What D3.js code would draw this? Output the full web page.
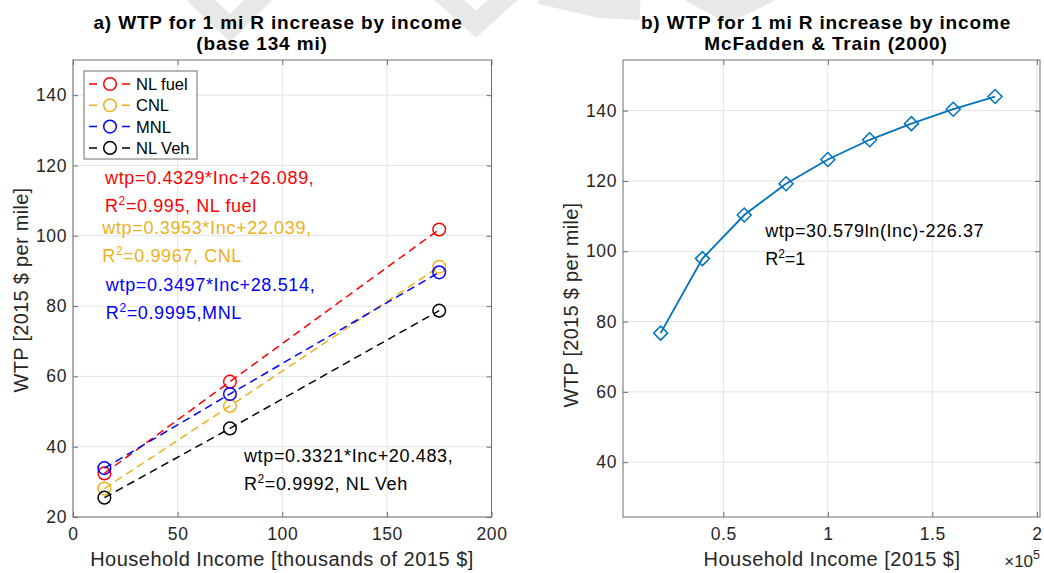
<!DOCTYPE html>
<html>
<head>
<meta charset="utf-8">
<script src="https://cdn.jsdelivr.net/npm/d3@7"></script>
<style>
  body { margin: 0; background: #fff; }
  svg { display: block; }
  text { font-family: "Liberation Sans", Arial, Helvetica, sans-serif; fill: #262626; }
</style>
</head>
<body>
<svg id="fig" width="1044" height="573"></svg>
<script>
// ---- Panel a: WTP by household income, four model specifications ----
const incomeK   = [15, 75, 175];            // thousands of 2015 $
const wtpNLFuel = [32.4, 58.5, 101.8];
const wtpCNL    = [28.1, 51.6, 91.2];
const wtpMNL    = [33.9, 55.0, 89.6];
const wtpNLVeh  = [25.5, 45.2, 78.7];
const seriesNames  = ["NL fuel", "CNL", "MNL", "NL Veh"];
const fitEquations = ["wtp=0.4329*Inc+26.089,", "wtp=0.3953*Inc+22.039,",
                      "wtp=0.3497*Inc+28.514,", "wtp=0.3321*Inc+20.483,"];
const fitR2Values  = ["0.995", "0.9967", "0.9995", "0.9992"];
const fitR2Suffix  = [", NL fuel", ", CNL", ",MNL", ", NL Veh"];
const aXTicks = [0, 50, 100, 150, 200];
const aYTicks = [20, 40, 60, 80, 100, 120, 140];

// ---- Panel b: McFadden & Train (2000) ----
const incomeUSD = [20000, 40000, 60000, 80000, 100000, 120000, 140000, 160000, 180000];
const wtpMT     = [76.7, 97.9, 110.3, 119.2, 126.1, 131.7, 136.3, 140.4, 144.0];
const bXTicks      = [50000, 100000, 150000, 200000];
const bXTickLabels = ["0.5", "1", "1.5", "2"];
const bYTicks      = [40, 60, 80, 100, 120, 140];
const bEquation    = "wtp=30.579ln(Inc)-226.37";
const bR2Value     = "1";

const colors = ["#ff0000", "#edb120", "#0000ff", "#000000"];
const lineBlue = "#0072bd";
const svg = d3.select("#fig");

// faint grey marks along the top edge
const haze = svg.append("g").attr("fill", "none").attr("stroke", "#e8e8e8")
  .attr("stroke-width", 20).attr("stroke-linejoin", "miter");
[[[190, -10], [230, 28], [268, -10]],
 [[438, -10], [476, 24], [514, -10]],
 [[540, -6], [600, 8], [640, 10]],
 [[690, -8], [728, 12], [770, -8]]].forEach(p =>
  haze.append("path").attr("d", d3.line()(p)));

function drawAxes(g, x, y, xTicks, yTicks, xFmt) {
  const [x0, x1] = x.range();
  const [y0, y1] = y.range();
  // grid
  g.append("g").selectAll("line").data(xTicks).join("line")
    .attr("x1", d => x(d)).attr("x2", d => x(d)).attr("y1", y0).attr("y2", y1)
    .attr("stroke", "#e3e3e3").attr("stroke-width", 1);
  g.append("g").selectAll("line").data(yTicks).join("line")
    .attr("y1", d => y(d)).attr("y2", d => y(d)).attr("x1", x0).attr("x2", x1)
    .attr("stroke", "#e3e3e3").attr("stroke-width", 1);
  // axes with inward ticks on all four sides
  const style = sel => {
    sel.select(".domain").remove();
    sel.selectAll("line").attr("stroke", "#6e6e6e");
    sel.selectAll("text").style("font-size", "17.5px").attr("fill", "#262626")
      .style("letter-spacing", "0.6px");
  };
  g.append("g").attr("transform", `translate(0,${y0})`)
    .call(d3.axisBottom(x).tickValues(xTicks).tickSize(-5).tickPadding(11).tickFormat(xFmt))
    .call(style);
  g.append("g").attr("transform", `translate(0,${y1})`)
    .call(d3.axisTop(x).tickValues(xTicks).tickSize(-5).tickFormat(""))
    .call(style);
  g.append("g").attr("transform", `translate(${x0},0)`)
    .call(d3.axisLeft(y).tickValues(yTicks).tickSize(-5).tickPadding(6))
    .call(style);
  g.append("g").attr("transform", `translate(${x1},0)`)
    .call(d3.axisRight(y).tickValues(yTicks).tickSize(-5).tickFormat(""))
    .call(style);
  g.selectAll(".tick text").attr("font-family", null);
  g.append("rect").attr("x", x0).attr("y", y1).attr("width", x1 - x0).attr("height", y0 - y1)
    .attr("fill", "none").attr("stroke", "#6e6e6e").attr("stroke-width", 1);
}

function r2Text(sel, value, suffix) {
  sel.append("tspan").text("R");
  sel.append("tspan").text("2").attr("dy", -7).style("font-size", "12px");
  sel.append("tspan").text("=" + value + suffix).attr("dy", 7);
}

// two-line bold title
function title(g, lines, xs, y) {
  lines.forEach((s, i) => g.append("text").attr("text-anchor", "middle")
    .attr("x", xs[i]).attr("y", y + i * 21.4)
    .style("font-size", "19px").style("letter-spacing", "0.85px")
    .style("font-weight", "bold").style("fill", "#000").text(s));
}

// ================= Panel a =================
const xa = d3.scaleLinear().domain([0, 200]).range([73, 491.5]);
const ya = d3.scaleLinear().domain([20, 150]).range([517, 60]);
const ga = svg.append("g");
drawAxes(ga, xa, ya, aXTicks, aYTicks, d3.format("d"));

const seriesA = [wtpNLFuel, wtpCNL, wtpMNL, wtpNLVeh];
const lineA = d3.line().x((d, i) => xa(incomeK[i])).y(d => ya(d));
seriesA.forEach((vals, k) => {
  ga.append("path").attr("d", lineA(vals)).attr("fill", "none")
    .attr("stroke", colors[k]).attr("stroke-width", 1.5).attr("stroke-dasharray", "8,5");
  ga.append("g").selectAll("circle").data(vals).join("circle")
    .attr("cx", (d, i) => xa(incomeK[i])).attr("cy", d => ya(d)).attr("r", 6.3)
    .attr("fill", "none").attr("stroke", colors[k]).attr("stroke-width", 1.5);
});

// fitted-equation notes (anchored in data units)
const notePos = [[15.3, 114.6], [14.0, 100.5], [15.7, 84.4], [81.7, 35.7]];
const noteGap = 28;
seriesA.forEach((_, k) => {
  const t = ga.append("g").attr("transform", `translate(${xa(notePos[k][0])},${ya(notePos[k][1])})`);
  t.append("text").text(fitEquations[k]).style("font-size", "18px")
    .style("letter-spacing", "0.65px").style("fill", colors[k]);
  const t2 = t.append("text").attr("y", noteGap).style("font-size", "18px")
    .style("letter-spacing", "0.6px").style("fill", colors[k]);
  r2Text(t2, fitR2Values[k], fitR2Suffix[k]);
});

// legend
const lg = ga.append("g");
lg.append("rect").attr("x", 84).attr("y", 71).attr("width", 113).attr("height", 88)
  .attr("fill", "#fff").attr("stroke", "#6e6e6e").attr("stroke-width", 1);
seriesNames.forEach((name, k) => {
  const cy = 84 + k * 21.3;
  lg.append("line").attr("x1", 89).attr("x2", 130).attr("y1", cy).attr("y2", cy)
    .attr("stroke", colors[k]).attr("stroke-width", 1.5).attr("stroke-dasharray", "8,25");
  lg.append("circle").attr("cx", 110).attr("cy", cy).attr("r", 6.3)
    .attr("fill", "none").attr("stroke", colors[k]).attr("stroke-width", 1.5);
  lg.append("text").attr("x", 136).attr("y", cy + 6).text(name)
    .style("font-size", "16.5px").style("fill", "#000");
});

// titles and labels
title(ga, ["a) WTP for 1 mi R increase by income", "(base 134 mi)"], [278, 262], 29);
ga.append("text").attr("x", 282).attr("y", 566).attr("text-anchor", "middle")
  .style("font-size", "20px").style("letter-spacing", "0.5px")
  .text("Household Income [thousands of 2015 $]");
ga.append("text").attr("transform", "translate(28,290) rotate(-90)").attr("text-anchor", "middle")
  .style("font-size", "20px").style("letter-spacing", "0.3px")
  .text("WTP [2015 $ per mile]");

// ================= Panel b =================
const xb = d3.scaleLinear().domain([2000, 201500]).range([623, 1040]);
const yb = d3.scaleLinear().domain([24.4, 154.4]).range([517, 60]);
const gb = svg.append("g");
drawAxes(gb, xb, yb, bXTicks, bYTicks, (d, i) => bXTickLabels[i]);

const lineB = d3.line().x((d, i) => xb(incomeUSD[i])).y(d => yb(d));
gb.append("path").attr("d", lineB(wtpMT)).attr("fill", "none")
  .attr("stroke", lineBlue).attr("stroke-width", 1.8);
gb.append("g").selectAll("path").data(wtpMT).join("path")
  .attr("transform", (d, i) => `translate(${xb(incomeUSD[i])},${yb(d)})`)
  .attr("d", "M0,-7L7,0L0,7L-7,0Z")
  .attr("fill", "none").attr("stroke", lineBlue).attr("stroke-width", 1.5);

const tb = gb.append("g").attr("transform", `translate(${xb(70000)},${yb(104.1)})`);
tb.append("text").text(bEquation).style("font-size", "18px").style("letter-spacing", "0.6px")
  .style("fill", "#000");
r2Text(tb.append("text").attr("y", 28.5).style("font-size", "18px").style("fill", "#000"), bR2Value, "");

title(gb, ["b) WTP for 1 mi R increase by income", "McFadden & Train (2000)"], [826, 826], 29);
gb.append("text").attr("x", 832).attr("y", 566).attr("text-anchor", "middle")
  .style("font-size", "20px").style("letter-spacing", "0.5px")
  .text("Household Income [2015 $]");
gb.append("text").attr("transform", "translate(578,305) rotate(-90)").attr("text-anchor", "middle")
  .style("font-size", "20px").style("letter-spacing", "0.3px")
  .text("WTP [2015 $ per mile]");
const ex = gb.append("text").attr("x", 1040).attr("y", 567).attr("text-anchor", "end")
  .style("font-size", "17px");
ex.append("tspan").text("\u00d710");
ex.append("tspan").text("5").attr("dy", -8).style("font-size", "12.5px");
</script>
</body>
</html>
